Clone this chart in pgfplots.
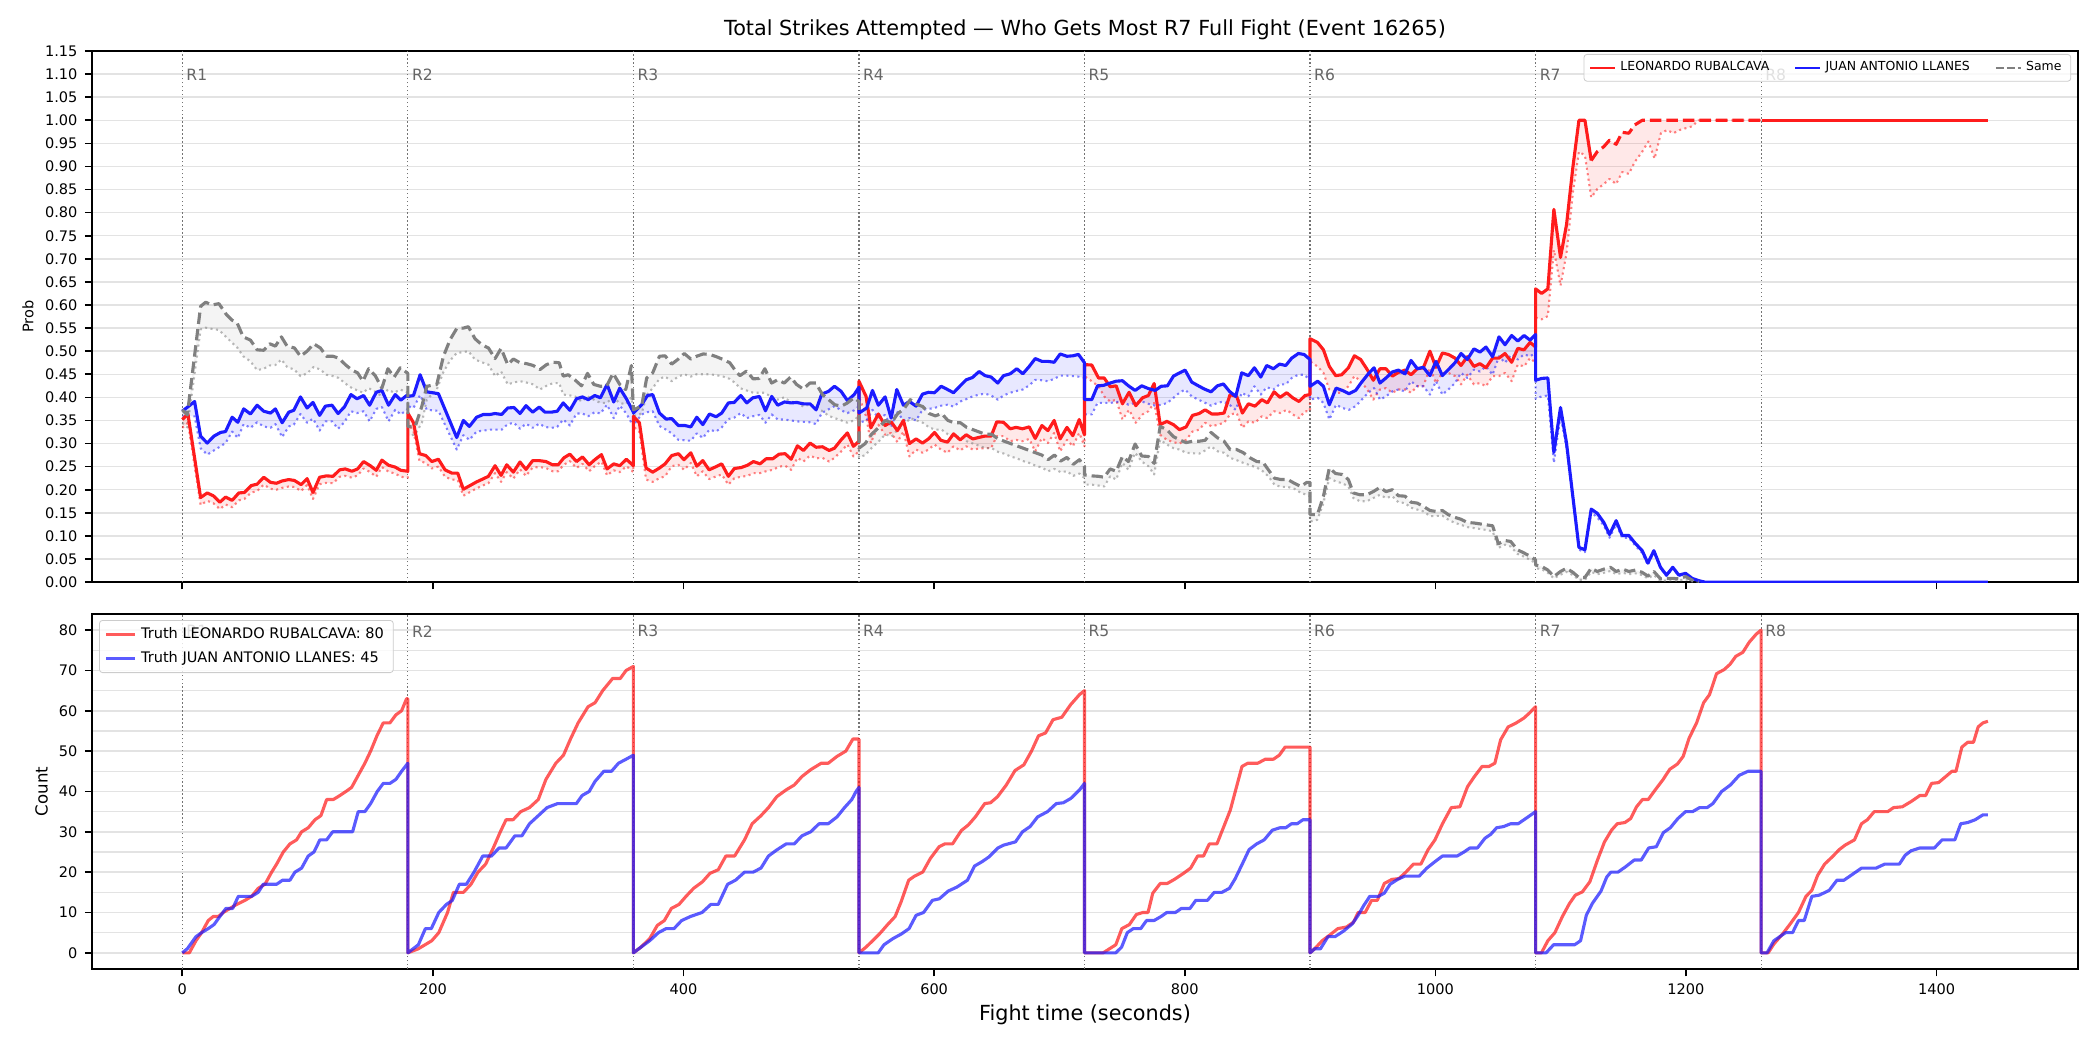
\documentclass[border=0pt]{standalone}
\usepackage{fontspec}
\setmainfont{DejaVu Sans}
\usepackage{pgfplots}
\pgfplotsset{compat=1.18}
\usepackage{pgfplotstable}
\usepgfplotslibrary{fillbetween}

\definecolor{cRed}{RGB}{255,28,28}
\definecolor{cBlue}{RGB}{28,28,255}
\definecolor{cGray}{RGB}{128,128,128}

\pgfplotstableread{
t m l
0 0.352 0.334
4.5 0.364 0.345
14.6 0.183 0.167
19.9 0.193 0.176
24.7 0.187 0.171
30 0.173 0.158
34.5 0.184 0.168
39.8 0.177 0.162
45.1 0.193 0.177
49.6 0.194 0.180
55 0.209 0.194
59.7 0.212 0.197
65 0.227 0.211
70.4 0.216 0.202
75.1 0.214 0.200
79.7 0.219 0.204
85 0.222 0.207
89.5 0.220 0.206
94.8 0.211 0.197
99.6 0.224 0.210
104.3 0.194 0.180
109.6 0.227 0.212
115 0.230 0.215
120.3 0.229 0.214
125.6 0.243 0.228
130.1 0.245 0.230
135.4 0.240 0.226
139.9 0.245 0.231
144.7 0.261 0.246
150 0.252 0.238
154.8 0.242 0.228
159.3 0.264 0.249
164.6 0.253 0.239
169.9 0.249 0.235
174.4 0.242 0.228
180 0.240 0.226
180 0.366 0.345
184.5 0.345 0.326
189.3 0.278 0.262
194.3 0.274 0.258
199.1 0.261 0.246
204.4 0.266 0.250
209.7 0.243 0.228
215.1 0.236 0.222
219.8 0.236 0.221
224.3 0.201 0.187
229.6 0.209 0.195
234.9 0.217 0.203
239.7 0.223 0.209
244.3 0.229 0.214
249.6 0.252 0.236
254.4 0.231 0.217
258.9 0.254 0.238
264.2 0.238 0.224
269.5 0.260 0.244
274.3 0.244 0.230
279.6 0.263 0.248
284.9 0.263 0.249
290.2 0.261 0.247
295.5 0.254 0.240
300 0.254 0.240
304.5 0.269 0.254
309.3 0.277 0.262
314.6 0.261 0.247
319.4 0.271 0.256
324.7 0.254 0.240
329.2 0.265 0.251
334.5 0.276 0.261
339 0.245 0.231
344.3 0.256 0.242
349.1 0.252 0.238
354.4 0.266 0.251
360 0.252 0.238
360 0.359 0.337
364.8 0.345 0.325
370.1 0.247 0.222
375.4 0.238 0.217
380.8 0.247 0.225
385.3 0.256 0.229
390.6 0.274 0.251
395.9 0.278 0.254
400.4 0.265 0.243
405.8 0.280 0.258
410.6 0.251 0.229
415.4 0.263 0.240
420.4 0.243 0.223
425.2 0.249 0.228
430.5 0.256 0.233
435.8 0.229 0.211
440.6 0.246 0.225
446 0.248 0.228
451 0.253 0.230
455.8 0.261 0.236
461.1 0.256 0.236
465.9 0.267 0.240
471.2 0.267 0.243
476.3 0.277 0.250
481.1 0.278 0.252
485.9 0.266 0.243
490.9 0.295 0.269
495.7 0.285 0.261
501 0.301 0.274
505.8 0.292 0.268
510.9 0.293 0.269
516.2 0.285 0.261
520.5 0.290 0.269
525.8 0.308 0.283
530.8 0.323 0.298
535.6 0.294 0.272
540 0.305 0.283
540 0.435 0.402
545.7 0.402 0.359
549.5 0.334 0.301
555.5 0.364 0.341
560.9 0.339 0.319
565.7 0.347 0.323
570.7 0.328 0.303
575.5 0.350 0.326
580.3 0.300 0.272
585.6 0.310 0.287
590.7 0.301 0.280
595.5 0.310 0.287
600.3 0.324 0.298
605.4 0.307 0.287
610.7 0.303 0.280
615.5 0.321 0.294
620.8 0.308 0.285
625.6 0.319 0.294
630.9 0.310 0.287
635.4 0.313 0.289
640.2 0.316 0.290
645.5 0.316 0.290
650 0.347 0.316
655.4 0.346 0.316
660.7 0.332 0.305
665.5 0.335 0.308
670.5 0.332 0.305
675.9 0.336 0.310
680.7 0.311 0.283
686 0.339 0.312
690.8 0.328 0.301
695.8 0.350 0.323
700.6 0.310 0.283
706 0.335 0.308
710.7 0.317 0.294
715.8 0.352 0.323
720 0.319 0.294
720 0.471 0.446
725.8 0.470 0.435
731.2 0.442 0.424
735.7 0.442 0.402
740.5 0.423 0.391
745.3 0.425 0.395
750.3 0.386 0.352
755.6 0.411 0.373
760.9 0.382 0.345
766.3 0.399 0.363
771 0.404 0.370
775.6 0.430 0.388
780.4 0.341 0.319
785.7 0.348 0.308
791 0.341 0.303
795.8 0.330 0.300
801.1 0.336 0.308
806.2 0.361 0.326
811.5 0.365 0.330
816.3 0.373 0.345
821.6 0.364 0.337
826.4 0.364 0.341
831.4 0.366 0.345
836.2 0.406 0.363
841.5 0.402 0.366
846 0.366 0.334
850.8 0.386 0.348
856.1 0.381 0.345
861.5 0.395 0.359
866 0.388 0.355
871.3 0.412 0.370
876.1 0.400 0.366
881.4 0.410 0.373
886.2 0.399 0.363
891.2 0.391 0.355
896 0.404 0.370
900 0.406 0.370
900 0.527 0.478
905.9 0.519 0.467
910.7 0.503 0.453
915.4 0.467 0.417
920.5 0.447 0.410
925.3 0.449 0.410
930.6 0.464 0.424
935.4 0.490 0.446
940.4 0.482 0.435
945.7 0.460 0.417
950.5 0.437 0.395
955.8 0.462 0.417
960.6 0.462 0.420
965.7 0.446 0.410
970.5 0.454 0.417
975.8 0.459 0.417
980.6 0.449 0.410
985.6 0.462 0.424
990.4 0.464 0.424
995.7 0.500 0.464
1000.5 0.465 0.431
1005.6 0.496 0.453
1010.4 0.493 0.453
1015.7 0.485 0.446
1020.5 0.469 0.428
1025.5 0.488 0.449
1030.8 0.467 0.428
1035.6 0.473 0.431
1040.4 0.464 0.424
1045.7 0.485 0.446
1050.8 0.485 0.446
1055.6 0.495 0.453
1060.9 0.476 0.435
1065.8 0.506 0.471
1070.8 0.503 0.467
1075.6 0.519 0.485
1080 0.509 0.475
1080 0.635 0.573
1084.8 0.625 0.569
1089.8 0.635 0.576
1094.6 0.807 0.719
1099.9 0.703 0.642
1104.7 0.774 0.712
1109.8 0.899 0.844
1114.6 1.000 0.932
1119.4 1.000 0.924
1124.4 0.913 0.833
1129.2 0.932 0.851
1134.5 0.943 0.862
1139 0.957 0.873
1144.3 0.948 0.862
1149.1 0.974 0.888
1154.4 0.972 0.884
1159.2 0.990 0.910
1165.1 1.000 0.932
1170 1.000 0.954
1175 1.000 0.917
1180 1.000 0.972
1185 1.000 0.979
1190 1.000 0.972
1195 1.000 0.979
1200 1.000 0.983
1205 1.000 0.987
1210 1.000 1.000
1261 1.000 1.000
1441 1.000 1.000
}\redT

\pgfplotstableread{
t m l
0 0.370 0.359
9.8 0.391 0.359
14.6 0.316 0.290
19.9 0.301 0.276
25.2 0.316 0.285
30.5 0.324 0.294
34.5 0.326 0.301
39.8 0.357 0.326
44.3 0.346 0.312
49 0.375 0.342
54.4 0.364 0.334
59.7 0.383 0.346
65 0.370 0.337
70.4 0.366 0.334
74.3 0.375 0.342
79.7 0.345 0.314
85 0.368 0.337
89 0.372 0.341
94.3 0.401 0.364
99.6 0.377 0.345
104.3 0.389 0.354
109.6 0.361 0.328
114.2 0.381 0.348
119.5 0.383 0.348
124.3 0.365 0.332
129.3 0.379 0.346
134.6 0.406 0.370
139.4 0.397 0.366
144.7 0.404 0.370
149.5 0.383 0.348
154.8 0.411 0.375
159.3 0.415 0.379
164.6 0.383 0.348
169.9 0.406 0.373
174.4 0.394 0.363
180 0.406 0.375
180 0.402 0.381
184.5 0.404 0.377
189.8 0.449 0.405
195.1 0.412 0.373
204.4 0.408 0.371
219 0.313 0.287
224.3 0.350 0.318
229.1 0.337 0.308
234.9 0.357 0.326
240.3 0.363 0.328
245.6 0.363 0.330
249.6 0.365 0.330
254.9 0.363 0.330
259.7 0.377 0.342
264.7 0.378 0.345
269.5 0.365 0.332
274.3 0.382 0.343
279.6 0.368 0.334
284.9 0.379 0.343
289.4 0.368 0.336
294.7 0.368 0.334
299.2 0.370 0.336
304 0.388 0.352
309.3 0.372 0.339
314.6 0.397 0.365
319.4 0.401 0.365
323.9 0.395 0.359
329.2 0.404 0.368
333.7 0.399 0.365
339 0.428 0.384
344.3 0.390 0.355
349.1 0.420 0.382
354.4 0.397 0.365
360 0.368 0.337
360 0.366 0.340
366.6 0.384 0.363
371.2 0.404 0.368
375.4 0.406 0.370
380.8 0.366 0.338
386.1 0.353 0.330
390.6 0.354 0.322
395.9 0.339 0.308
401.2 0.339 0.307
405.8 0.336 0.306
410.6 0.357 0.322
415.4 0.341 0.312
420.7 0.364 0.330
426 0.358 0.326
430.5 0.366 0.335
435.8 0.388 0.353
440.4 0.389 0.356
445.7 0.404 0.366
450.5 0.388 0.355
455.3 0.399 0.359
460.6 0.402 0.362
465.4 0.371 0.345
470.4 0.402 0.363
475.2 0.383 0.352
480.5 0.390 0.352
485.9 0.388 0.350
490.4 0.389 0.348
495.7 0.386 0.347
501 0.386 0.346
505.8 0.373 0.342
510.3 0.407 0.366
515.7 0.413 0.374
520.5 0.424 0.381
525.8 0.413 0.372
530.8 0.393 0.366
536.2 0.406 0.372
540 0.422 0.381
540 0.366 0.345
546.2 0.377 0.350
550.8 0.415 0.373
555.5 0.383 0.355
560.9 0.401 0.362
565.7 0.355 0.335
570.2 0.417 0.370
575.5 0.383 0.350
580.3 0.391 0.355
585.6 0.381 0.350
590.7 0.407 0.373
595.5 0.411 0.375
600.3 0.410 0.377
605.6 0.424 0.382
610.7 0.417 0.384
615.5 0.410 0.380
620.8 0.425 0.391
625.6 0.438 0.396
630.6 0.443 0.402
635.9 0.456 0.406
640.7 0.447 0.408
645.5 0.444 0.404
650.8 0.431 0.395
655.4 0.447 0.404
660.7 0.451 0.410
666 0.462 0.414
670.8 0.451 0.417
675.9 0.467 0.426
680.7 0.484 0.438
686 0.478 0.437
690.8 0.478 0.435
695.8 0.476 0.440
700.6 0.494 0.447
706 0.489 0.447
710.7 0.490 0.446
715.2 0.493 0.445
720 0.475 0.442
720 0.395 0.363
725.8 0.395 0.363
730.4 0.425 0.388
735.2 0.426 0.388
740.5 0.431 0.388
745.3 0.435 0.390
750.3 0.436 0.391
755.1 0.425 0.384
760.4 0.415 0.388
765.7 0.425 0.391
771 0.419 0.386
776.4 0.415 0.382
781.2 0.424 0.384
786.2 0.425 0.388
791 0.446 0.399
795.8 0.453 0.410
800.3 0.459 0.417
805.6 0.433 0.402
810.9 0.425 0.395
815.7 0.418 0.389
821 0.412 0.382
826.1 0.425 0.388
830.9 0.429 0.391
835.7 0.413 0.384
840.7 0.402 0.373
845.5 0.453 0.410
850.8 0.447 0.402
855.6 0.464 0.424
860.7 0.444 0.406
865.4 0.469 0.422
870.8 0.462 0.417
875.6 0.472 0.428
880.6 0.469 0.428
885.4 0.485 0.442
890.7 0.495 0.449
895.2 0.493 0.449
900 0.482 0.438
900 0.424 0.395
906.1 0.435 0.399
910.7 0.424 0.388
915.4 0.384 0.352
920.8 0.420 0.384
925.8 0.415 0.377
931.1 0.408 0.373
936.4 0.415 0.381
941.2 0.433 0.395
946.5 0.451 0.410
951.1 0.464 0.420
955.8 0.431 0.395
960.6 0.442 0.402
965.7 0.455 0.413
970.5 0.459 0.417
975.8 0.451 0.413
980.6 0.480 0.435
985.6 0.462 0.424
990.4 0.465 0.424
995.7 0.447 0.406
1000.5 0.478 0.435
1005.6 0.447 0.406
1010.4 0.460 0.417
1015.7 0.475 0.431
1020.5 0.495 0.453
1025.5 0.482 0.442
1030.8 0.505 0.460
1035.6 0.498 0.456
1040.4 0.509 0.467
1045.7 0.488 0.449
1050.8 0.531 0.489
1055.6 0.514 0.475
1060.9 0.534 0.493
1065.8 0.522 0.482
1070.8 0.534 0.493
1075.6 0.524 0.489
1080 0.536 0.496
1080 0.437 0.397
1084.8 0.441 0.402
1089.8 0.442 0.404
1094.6 0.281 0.258
1099.9 0.378 0.360
1104.7 0.301 0.290
1109.8 0.184 0.177
1114.6 0.075 0.070
1119.4 0.070 0.065
1124.4 0.158 0.151
1129.2 0.149 0.140
1134.5 0.129 0.122
1139 0.103 0.096
1144.3 0.133 0.125
1149.1 0.101 0.096
1154.4 0.101 0.096
1159.2 0.085 0.080
1165.1 0.068 0.063
1169.6 0.041 0.037
1174.4 0.068 0.065
1179.7 0.032 0.030
1184.5 0.015 0.013
1189.5 0.032 0.030
1194.3 0.015 0.013
1199.7 0.019 0.017
1205 0.008 0.007
1210.3 0.003 0.002
1215 0 0
1441 0 0
}\blueT

\pgfplotstableread{
t m l
0 0.373 0.345
4 0.362 0.335
14.6 0.597 0.547
18.6 0.606 0.551
23.9 0.600 0.548
29.2 0.603 0.546
35.3 0.579 0.530
39.8 0.567 0.518
43.8 0.561 0.508
48.6 0.531 0.489
54.4 0.524 0.478
59.7 0.503 0.459
65 0.502 0.462
69.8 0.516 0.469
74.3 0.511 0.470
79.1 0.531 0.482
83.6 0.511 0.466
89.5 0.507 0.460
94.3 0.489 0.446
99.6 0.500 0.452
104.9 0.516 0.466
110.2 0.507 0.460
115 0.489 0.449
120.3 0.489 0.446
124.8 0.485 0.442
130.1 0.471 0.430
135.4 0.459 0.420
139.9 0.453 0.415
144.2 0.435 0.410
148.7 0.462 0.420
154 0.447 0.412
159.3 0.420 0.402
164.1 0.462 0.417
169.1 0.444 0.410
173.9 0.464 0.417
180 0.452 0.410
180 0.337 0.316
185.9 0.337 0.320
191.2 0.381 0.345
195.1 0.424 0.395
203.1 0.428 0.417
208.4 0.489 0.455
213.7 0.525 0.480
219 0.549 0.496
224.3 0.550 0.498
228.3 0.553 0.500
233.6 0.527 0.482
239 0.514 0.476
244.3 0.507 0.471
249.6 0.484 0.446
254.4 0.506 0.456
259.7 0.471 0.428
264.2 0.483 0.432
269.5 0.475 0.435
274.8 0.473 0.432
280.1 0.469 0.428
285.4 0.460 0.417
290.7 0.471 0.425
296 0.476 0.431
300.8 0.475 0.431
304 0.446 0.406
308 0.449 0.405
313.3 0.438 0.402
318.6 0.425 0.391
323.4 0.452 0.402
328.4 0.428 0.395
333.7 0.424 0.388
338.5 0.424 0.388
343.8 0.452 0.399
349.1 0.428 0.388
353.9 0.417 0.385
358.4 0.469 0.400
360 0.373 0.359
366.6 0.381 0.365
370.6 0.442 0.405
375.4 0.453 0.420
380.8 0.489 0.440
385.3 0.490 0.445
390.6 0.472 0.435
395.9 0.483 0.445
400.6 0.495 0.450
405.8 0.483 0.445
410.4 0.489 0.450
415.7 0.494 0.450
421 0.493 0.450
426.3 0.488 0.448
431.6 0.482 0.445
436.9 0.475 0.440
441.7 0.457 0.430
445 0.447 0.420
450.3 0.457 0.415
455.6 0.440 0.410
460.4 0.441 0.410
464.9 0.462 0.410
470.3 0.431 0.400
475.1 0.438 0.395
480.4 0.431 0.400
485.4 0.444 0.390
490.2 0.428 0.390
495.5 0.418 0.380
500.8 0.431 0.385
505.6 0.431 0.380
510.9 0.406 0.370
515.9 0.395 0.360
520.7 0.384 0.355
526 0.381 0.350
530.8 0.388 0.345
536.1 0.399 0.350
540 0.391 0.360
540 0.290 0.270
545 0.300 0.275
550 0.320 0.290
556 0.335 0.305
561 0.350 0.320
566 0.345 0.315
571 0.365 0.330
576 0.375 0.340
581 0.395 0.355
586 0.385 0.350
591 0.380 0.345
596 0.365 0.335
601 0.360 0.330
606 0.365 0.330
611 0.350 0.320
616 0.345 0.315
621 0.345 0.315
626 0.335 0.305
631 0.330 0.300
636 0.325 0.295
641 0.320 0.290
646 0.320 0.290
651 0.310 0.282
656 0.305 0.278
661 0.300 0.272
666 0.295 0.268
671 0.290 0.262
676 0.285 0.258
681 0.280 0.252
686 0.275 0.248
691 0.265 0.240
696 0.275 0.245
701 0.262 0.238
706 0.270 0.240
711 0.255 0.230
716 0.265 0.235
720 0.250 0.225
720 0.232 0.211
725.8 0.230 0.211
731.2 0.229 0.209
735.7 0.227 0.207
740.5 0.245 0.229
745.3 0.240 0.222
750.3 0.272 0.258
755.1 0.261 0.243
760.4 0.299 0.280
765.7 0.273 0.261
771 0.272 0.251
775.6 0.257 0.233
780.4 0.337 0.308
785.7 0.330 0.298
791 0.315 0.290
795.8 0.308 0.287
801.1 0.302 0.280
806.2 0.305 0.279
811.5 0.305 0.278
816.3 0.307 0.285
821 0.324 0.294
826.4 0.312 0.283
831.4 0.305 0.280
836.2 0.287 0.269
841.5 0.287 0.264
846.8 0.280 0.258
852.2 0.269 0.253
857.5 0.261 0.248
862.3 0.260 0.240
866.8 0.243 0.229
871.6 0.225 0.211
876.9 0.222 0.206
882.2 0.222 0.206
887.5 0.214 0.202
892.8 0.207 0.193
897.4 0.216 0.189
900 0.216 0.186
900 0.146 0.131
905.9 0.146 0.135
910.7 0.186 0.171
915.4 0.247 0.225
920.5 0.235 0.218
925.8 0.233 0.214
930.6 0.222 0.207
934.6 0.193 0.182
939.9 0.189 0.175
945.3 0.189 0.175
950.5 0.196 0.182
955.8 0.205 0.189
960.6 0.196 0.182
965.7 0.200 0.186
970.5 0.187 0.173
975.8 0.186 0.171
980.6 0.173 0.161
985.6 0.171 0.157
990.4 0.164 0.153
995.7 0.155 0.143
1000.5 0.153 0.143
1005.6 0.155 0.144
1010.4 0.146 0.135
1015.7 0.140 0.128
1020.5 0.136 0.124
1025.5 0.129 0.119
1030.8 0.128 0.117
1035.6 0.126 0.115
1040.4 0.124 0.113
1045.7 0.122 0.110
1050.3 0.083 0.074
1055.6 0.090 0.081
1060.1 0.088 0.077
1065.5 0.070 0.061
1070.8 0.063 0.055
1075.6 0.056 0.048
1080 0.048 0.041
1080 0.037 0.030
1084.8 0.034 0.028
1089.8 0.026 0.020
1094.6 0.012 0.008
1099.9 0.023 0.016
1104.7 0.030 0.022
1109.8 0.021 0.015
1114.6 0.010 0.005
1119.4 0.010 0.005
1124.4 0.030 0.022
1129.2 0.023 0.017
1134.5 0.028 0.020
1139.8 0.032 0.024
1144.3 0.023 0.017
1149.6 0.028 0.020
1154.4 0.023 0.017
1159.7 0.026 0.019
1165.1 0.021 0.015
1169.6 0.013 0.008
1174.4 0.023 0.015
1179.7 0.007 0.003
1184.5 0.008 0.003
1189.5 0.008 0.004
1194.3 0.007 0.003
1199.7 0.012 0.006
1205 0.004 0.001
1210.3 0 0
}\grayT

\pgfplotstableread{
t c
0 0
5.6 0
10.9 3
15.4 5
20.7 8
24.7 9
28.7 9
32.7 10
38 11
43.4 12
50 13
55.3 14
60.6 16
66 17
71.3 20
75.3 22
80.6 25
85.9 27
91.2 28
95.2 30
100.5 31
105.9 33
110.6 34
115.2 38
120.5 38
125.8 39
130.6 40
135.1 41
140.4 44
145.7 47
150.3 50
155.6 54
160.4 57
165.7 57
170.5 59
175 60
179 63
180 63
180 0
188.4 1
199.1 3
204.7 5
211.7 10
216.4 15
224.4 15
230.4 17
236 20
242.1 22
248.2 26
253.8 30
258.4 33
264 33
270.1 35
277.1 36
284.1 38
290.2 43
298.1 47
304.2 49
309.8 53
315.9 57
323.8 61
329.4 62
335.5 65
343.4 68
349.5 68
354.2 70
360 71
360 0
366 1.4
373 3.5
379.1 6.8
384.7 8
390.3 11
396.4 12
402 14
408.1 16
415.1 17.6
421.1 19.7
427.7 20.6
433.8 24
440.8 24
448.7 28
454.8 32
461.8 34
467.8 36
474.4 38.7
481.9 40.4
488.4 41.6
494.5 43.7
501.5 45.4
509.9 47
515.5 47
522.5 48.7
529.5 50
535.2 53
540 53
540 0
545.6 1.4
552.6 3.5
557.3 5
562.9 7
568.9 9
573.6 12.6
579.7 18
584.3 19
590.9 20
597 23.4
604 26.3
608.6 27
614.7 27
621.7 30.3
627.3 31.7
632.9 33.7
640.4 37
645 37.2
650.6 38.7
657.6 41.6
664.6 45.2
671.6 46.6
677.7 50
683.3 53.8
688.9 54.5
694.9 57.8
701.9 58.4
708.9 61.5
716 64
720 65
720 0
734.9 0
745 2
749.8 6
755.8 7
761.4 9.5
766.6 10
770.7 10
774.5 14.8
780.5 17.2
786.1 17.2
791.7 18.2
799 19.7
804.7 21
810.3 24
815 24
819.6 27
825.7 27
831.7 31.7
836.4 35.4
840 39.6
845.7 46.2
850.3 47
858.3 47
864.3 48
870.8 48
875.5 49
880.1 51
886 51
900 51
900 0
903.7 1
909.7 3
915.3 4.3
922.2 6
929.1 6.4
934.7 7.6
938.4 10
944 10
949.1 13
953.7 13
959.3 17.2
965.3 18.2
970.9 18.4
976.5 20
982.5 22
988.5 22
994.1 25.5
999.7 28
1005.7 32
1012.7 36
1019.6 36.2
1025.7 41.2
1031.2 43.7
1037.3 46.2
1042.8 46.2
1047.5 47
1052.1 52.8
1058.1 56
1064.6 57
1070.7 58.2
1075.3 59.5
1080 61
1080 0
1084.7 0
1089.8 3
1095.4 5
1101.4 9
1107 12.2
1111.7 14.3
1117.3 15.1
1123.3 17.6
1129.4 23
1135 27.5
1140.6 30.4
1145.2 32
1151.3 32.3
1155.9 33.3
1160.6 36.2
1165.3 38
1169.9 38
1175.5 40.4
1181.6 42.9
1187.1 45.5
1193.2 46.8
1197.8 48.7
1202.5 53.2
1208.5 57
1214.1 62
1218.8 64
1224.4 69.2
1230.4 70.2
1235.1 71.5
1239.8 73.5
1245.4 74.5
1250.5 77
1256.1 79
1260 80
1260 0
1265.6 0
1270.2 2.2
1277.2 4.7
1283.3 7.2
1289.8 10
1295.8 14
1300.5 15.5
1305.1 19.2
1310.7 22
1316.8 23.8
1322.4 25.6
1327 26.7
1334.5 28
1340.1 32
1344.8 33
1350.3 35
1361 35
1365.7 36
1372.7 36.2
1379.7 37.5
1386.7 39
1391.3 39
1396 42
1401.6 42.2
1406.2 43.4
1412.3 45
1415.5 45
1420.2 51
1424.9 52.2
1429.5 52.2
1433.2 56
1437 57
1441 57.4
}\redC

\pgfplotstableread{
t c
0 0
4 1
10.9 4
15.4 5
20.7 6
25.3 7
30 9
34.8 11
40.2 11
44.7 14
55.3 14
60.6 15
64.6 17
75.3 17
80 18
85.9 18
89.9 20
95.2 21
100.5 24
105.1 25
109.8 28
115.2 28
120 30
135.9 30
140.4 35
145.7 35
150.3 37
155.6 40
160.4 42
165.7 42
170.5 43
175 45
180 47
180 0
188.4 2
194 6
198.7 6
204.7 10
210.8 12
215.5 13
221.1 17
226.7 17
232.8 20
239.8 24
246.8 24
252.8 26
258.4 26
265.4 29
271 29
277.1 32
284.1 34
291.1 36
299.5 37
314.5 37
319.1 39
324.7 40
329.4 42.5
336.4 45
342.5 45
348.1 47
354.2 48
360 49
360 0
366 1.4
373 3
380 5
386.1 6
392.4 6
398.5 8
405.5 9
414.8 10
421.8 12
427.7 12
435.2 17
441.5 18
448.7 20
455.5 20
461.8 21
467.8 24
474.4 25.5
481.9 27
488.4 27
494.5 29
501.5 30
508.2 32
515.5 32
522.5 33.7
528.5 36
534.3 38
537.7 40
540 41
540 0
555.4 0
560 2
567 3.5
574 4.7
580 6
585.6 9.3
591.6 10
598.6 13
604.2 13.4
611.2 15.3
618.2 16.3
626.6 18
632.2 21.5
638.3 22.6
643.9 23.8
650.9 26
655.5 26.7
664.9 27.5
670.5 30
676.6 31.3
682.6 33.7
690.5 35
697.5 37
703.1 37.2
709.2 38.3
716.1 40.4
720 42
720 0
745 0
749.6 1.4
754.2 5
758.9 6
764.9 6
769.5 8
775.5 8
781.1 9
785.7 10
792.6 10
797.3 11
804.2 11
808.8 13
818.1 13
823.6 15
829.7 15
835.7 16
840.3 18.4
845.9 22
851.4 25.6
857.4 27
863.4 28
869.9 30.4
875.9 31
880.6 31
885.2 32
889.8 32
894.4 33
900 33
900 0
903.7 1
908.3 1
914.3 4
919.9 4
926.8 5.4
933.8 7.2
938.4 9.3
943 11.8
947.7 14
954.6 14
959.3 14.8
963.9 17
969.9 18.2
975.5 19
987.1 19
993.2 21
999.7 22.6
1005.7 24
1017.4 24
1022.9 25
1027.6 26
1033.6 26
1039.6 28.4
1044.3 29.4
1048.9 31
1054.5 31.3
1060.1 32
1066.1 32
1072.2 33.3
1080 35
1080 0
1088.4 0
1094.4 2
1111.2 2
1115.9 3
1120.5 9.3
1125.2 12.2
1132.2 15.3
1136.8 18.8
1140.1 20
1145.7 20
1151.7 21.3
1158.7 23
1164.3 23
1170.3 26
1176.4 26.3
1182 29.8
1187.5 31
1193.6 33.3
1199.7 35
1205.3 35
1210.9 36
1216.9 36
1221.5 37
1228.5 40
1235.5 41.6
1242.5 44
1249.5 45
1260 45
1260 0
1264.7 0
1270.2 3
1279.5 5
1285.1 5
1289.8 8
1294.4 8
1300.5 14
1306.5 14.3
1314.4 15.5
1320.5 18
1326.1 18
1331.7 19.2
1340.1 21
1351.7 21
1358.7 22
1370.3 22
1375 24.2
1379.7 25.3
1386.7 26
1398.3 26
1404.4 28
1414.6 28
1419.3 32
1424.9 32.3
1430.9 33
1437 34.2
1441 34.2
}\blueC

\pgfplotsset{
  /pgf/number format/assume math mode=true,
  /pgf/number format/1000 sep={},
  myaxis/.style={
    scale only axis, width=953.3bp,
    xmin=-72, xmax=1513,
    xtick={0,200,400,600,800,1000,1200,1400},
    tick pos=left, tick align=outside,
    major tick length=3.5bp, minor tick length=0bp,
    tick style={black, line width=0.8bp},
    axis line style={line width=0.8bp},
    ticklabel style={font=\fontsize{7}{8}\selectfont},
    ymajorgrids,
    grid style={black!11, line width=0.7bp},
    clip=true,
    every axis plot/.append style={line join=round, mark=none},
  },
  rline/.style={black!55, line width=0.6bp, dash pattern=on 0.7bp off 1.2bp, forget plot},
}
\tikzset{
  mainline/.style={line width=1.5bp},
  lowline/.style={line width=1bp, dash pattern=on 1bp off 1.65bp, opacity=0.55},
  dashline/.style={line width=1.5bp, dash pattern=on 5.5bp off 2.4bp},
  rlab/.style={anchor=west, inner sep=0pt, text=black!60, font=\fontsize{7.5}{9}\selectfont},
}

\begin{document}
\begin{tikzpicture}

% ---------- top panel ----------
\begin{axis}[myaxis,
  at={(44.2bp,224.6bp)}, anchor=south west, height=254.9bp,
  ymin=0, ymax=1.15,
  ytick={0,0.05,0.1,0.15,0.2,0.25,0.3,0.35,0.4,0.45,0.5,0.55,0.6,0.65,0.7,0.75,0.8,0.85,0.9,0.95,1,1.05,1.1,1.15},
  yticklabel style={/pgf/number format/fixed, /pgf/number format/fixed zerofill, /pgf/number format/precision=2},
  xticklabels={},
  legend columns=3,
  legend cell align=left,
  legend image code/.code={\draw[#1] (0bp,0bp) -- (12bp,0bp);},
  legend style={at={(rel axis cs:0.9965,0.9945)}, anchor=north east,
    font=\fontsize{6}{7}\selectfont, draw=black!20, fill=white, fill opacity=0.8, text opacity=1,
    rounded corners=1.5bp, inner xsep=2.5bp, inner ysep=1.5bp,
    /tikz/every even column/.append style={column sep=10bp}},
]
\foreach \r in {0,180,360,540,720,900,1080,1260}{
  \edef\tmp{\noexpand\addplot[rline] coordinates {(\r,0) (\r,1.15)};}\tmp
}
% named paths for bands
\addplot[draw=none, name path=rM, forget plot] table[x=t,y=m]{\redT};
\addplot[draw=none, name path=rL, forget plot] table[x=t,y=l]{\redT};
\addplot[draw=none, name path=bM, forget plot] table[x=t,y=m]{\blueT};
\addplot[draw=none, name path=bL, forget plot] table[x=t,y=l]{\blueT};
\addplot[draw=none, name path=gM, forget plot] table[x=t,y=m]{\grayT};
\addplot[draw=none, name path=gL, forget plot] table[x=t,y=l]{\grayT};
\addplot[fill=cGray, fill opacity=0.09, draw=none, forget plot] fill between[of=gM and gL];
\addplot[fill=cRed, fill opacity=0.1, draw=none, forget plot] fill between[of=rM and rL];
\addplot[fill=cBlue, fill opacity=0.1, draw=none, forget plot] fill between[of=bM and bL];
% lower dotted lines
\addplot[cRed, lowline, forget plot] table[x=t,y=l]{\redT};
\addplot[cBlue, lowline, forget plot] table[x=t,y=l]{\blueT};
\addplot[cGray, lowline, forget plot] table[x=t,y=l]{\grayT};
% main lines
\addplot[cRed, mainline, forget plot, restrict x to domain=0:1124.4] table[x=t,y=m]{\redT};
\addplot[cRed, dashline, forget plot, restrict x to domain=1124.4:1261] table[x=t,y=m]{\redT};
\addplot[cRed, mainline, forget plot, restrict x to domain=1261:1441] table[x=t,y=m]{\redT};
\addplot[cBlue, mainline, forget plot] table[x=t,y=m]{\blueT};
\addplot[cGray, dashline, forget plot] table[x=t,y=m]{\grayT};
% round labels
\node[rlab] at (axis cs:3,1.098) {R1};
\node[rlab] at (axis cs:183,1.098) {R2};
\node[rlab] at (axis cs:363,1.098) {R3};
\node[rlab] at (axis cs:543,1.098) {R4};
\node[rlab] at (axis cs:723,1.098) {R5};
\node[rlab] at (axis cs:903,1.098) {R6};
\node[rlab] at (axis cs:1083,1.098) {R7};
\node[rlab] at (axis cs:1263,1.098) {R8};
\addlegendimage{cRed, line width=1bp}
\addlegendentry{LEONARDO RUBALCAVA}
\addlegendimage{cBlue, line width=1bp}
\addlegendentry{JUAN ANTONIO LLANES}
\addlegendimage{cGray, line width=1bp, dash pattern=on 3.7bp off 1.6bp}
\addlegendentry{Same}
\end{axis}

% ---------- bottom panel ----------
\begin{axis}[myaxis,
  at={(44.2bp,38.9bp)}, anchor=south west, height=170.4bp,
  ymin=-4, ymax=84,
  ytick={0,10,20,30,40,50,60,70,80},
  minor ytick={5,15,25,35,45,55,65,75},
  yminorgrids,
  minor grid style={black!11, line width=0.7bp},
  legend cell align=left,
  legend image code/.code={\draw[#1] (0bp,0bp) -- (14bp,0bp);},
  legend style={at={(rel axis cs:0.0035,0.983)}, anchor=north west,
    font=\fontsize{7}{8.5}\selectfont, draw=black!20, fill=white, fill opacity=0.8, text opacity=1,
    rounded corners=1.5bp, inner xsep=2.5bp, inner ysep=1.5bp, row sep=0.5bp},
]
\foreach \r in {0,180,360,540,720,900,1080,1260}{
  \edef\tmp{\noexpand\addplot[rline] coordinates {(\r,-4) (\r,84)};}\tmp
}
\addplot[cRed, line width=1.5bp, opacity=0.72, forget plot] table[x=t,y=c]{\redC};
\addplot[cBlue, line width=1.5bp, opacity=0.72, forget plot] table[x=t,y=c]{\blueC};
\node[rlab] at (axis cs:3,79.7) {R1};
\node[rlab] at (axis cs:183,79.7) {R2};
\node[rlab] at (axis cs:363,79.7) {R3};
\node[rlab] at (axis cs:543,79.7) {R4};
\node[rlab] at (axis cs:723,79.7) {R5};
\node[rlab] at (axis cs:903,79.7) {R6};
\node[rlab] at (axis cs:1083,79.7) {R7};
\node[rlab] at (axis cs:1263,79.7) {R8};
\addlegendimage{cRed, line width=1.5bp, opacity=0.72}
\addlegendentry{Truth LEONARDO RUBALCAVA: 80}
\addlegendimage{cBlue, line width=1.5bp, opacity=0.72}
\addlegendentry{Truth JUAN ANTONIO LLANES: 45}
\end{axis}

\node[font=\fontsize{10}{12}\selectfont] at (520.8bp,489.8bp) {Total Strikes Attempted — Who Gets Most R7 Full Fight (Event 16265)};
\node[font=\fontsize{10}{12}\selectfont] at (520.8bp,16.8bp) {Fight time (seconds)};
\node[rotate=90, font=\fontsize{7}{8}\selectfont] at (13.4bp,352bp) {Prob};
\node[rotate=90, font=\fontsize{8}{9.5}\selectfont] at (19.9bp,124.1bp) {Count};
\path[use as bounding box] (0,0) rectangle (1008bp,504bp);
\end{tikzpicture}
\end{document}
